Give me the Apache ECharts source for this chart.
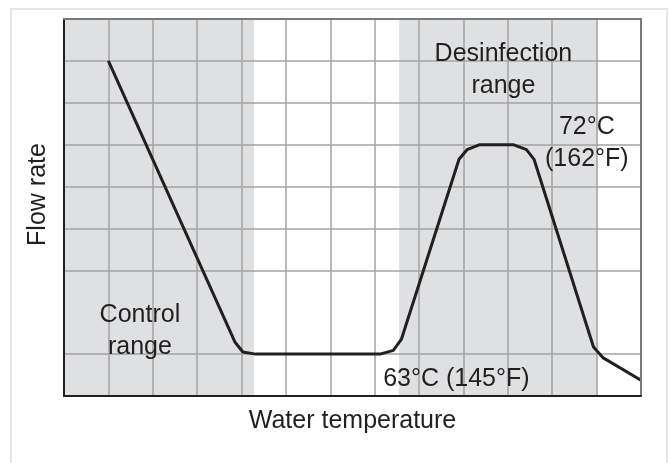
<!DOCTYPE html>
<html lang="en">
<head>
    <meta charset="UTF-8">
    <title>Flow rate vs water temperature</title>
    <script src="https://cdn.jsdelivr.net/npm/echarts@6/dist/echarts.min.js"></script>
    <style>
        html, body { margin: 0; padding: 0; background: #fff; }
    </style>
</head>
<body>
    <div id="graph" style="width: 669px; height: 463px;"></div>

    <script>
        // axis extents (grid units)
        var xMax = 13;
        var yMax = 9;

        // flow curve
        var curveX = [1, 3.85, 4.03, 4.32, 7.12, 7.42, 7.6, 8.9, 9.08, 9.37, 10.12, 10.42, 10.59, 11.93, 12.15, 13];
        var curveY = [8, 1.29, 1.05, 1.0, 1.0, 1.09, 1.35, 5.65, 5.88, 6.0, 6.0, 5.88, 5.65, 1.17, 0.91, 0.375];

        // shaded ranges (control, desinfection)
        var shadeFrom = [0, 7.55];
        var shadeTo = [4.28, 12.02];

        // grid lines (one horizontal line is missing in the original)
        var vGrid = [1, 2, 3, 4, 5, 6, 7, 8, 9, 10, 11, 12];
        var hGrid = [1, 3, 4, 5, 6, 7, 8];

        // annotations
        var noteText = ['Control\nrange', 'Desinfection\nrange', '72°C\n(162°F)', '63°C (145°F)'];
        var noteX = [1.71, 9.9, 11.78, 8.84];
        var noteY = [1.55, 7.79, 6.03, 0.40];

        var ink = '#231f20';
        var font = 'Liberation Sans, Arial, Helvetica, sans-serif';

        var curve = [];
        for (var i = 0; i < curveX.length; i++) {
            curve.push([curveX[i], curveY[i]]);
        }
        var areas = [];
        for (var i = 0; i < shadeFrom.length; i++) {
            areas.push([{xAxis: shadeFrom[i]}, {xAxis: shadeTo[i]}]);
        }
        var gridLines = [];
        for (var i = 0; i < vGrid.length; i++) {
            gridLines.push({xAxis: vGrid[i]});
        }
        for (var i = 0; i < hGrid.length; i++) {
            gridLines.push({yAxis: hGrid[i]});
        }
        var notes = [];
        for (var i = 0; i < noteText.length; i++) {
            notes.push({value: [noteX[i], noteY[i]], name: noteText[i]});
        }

        var myChart = echarts.init(document.getElementById('graph'));
        var option = {
            animation: false,
            textStyle: {fontFamily: font},
            graphic: [{
                type: 'rect',
                shape: {x: 11, y: 9, width: 656, height: 480},
                style: {fill: 'none', stroke: '#e6e6e6', lineWidth: 2},
                silent: true,
                z: -10
            }],
            grid: {left: 64, top: 19, width: 577, height: 377},
            xAxis: [{
                type: 'value',
                min: 0,
                max: xMax,
                interval: 1,
                name: 'Water temperature',
                nameLocation: 'middle',
                nameGap: 13,
                nameTextStyle: {color: ink, fontSize: 25, fontFamily: font, lineHeight: 25},
                axisLine: {show: true, onZero: false, lineStyle: {color: ink, width: 2}},
                axisTick: {show: false},
                axisLabel: {show: false},
                splitLine: {show: false},
                z: 6
            }, {
                type: 'value',
                position: 'top',
                min: 0,
                max: xMax,
                axisLine: {show: true, onZero: false, lineStyle: {color: '#7a7a7a', width: 2}},
                axisTick: {show: false},
                axisLabel: {show: false},
                splitLine: {show: false},
                z: 6
            }],
            yAxis: [{
                type: 'value',
                min: 0,
                max: yMax,
                interval: 1,
                name: 'Flow rate',
                nameLocation: 'middle',
                nameRotate: 90,
                nameGap: 13,
                nameTextStyle: {color: ink, fontSize: 25, fontFamily: font, lineHeight: 25, padding: [0, 0, 0, 26]},
                axisLine: {show: true, onZero: false, lineStyle: {color: ink, width: 2}},
                axisTick: {show: false},
                axisLabel: {show: false},
                splitLine: {show: false},
                z: 6
            }, {
                type: 'value',
                position: 'right',
                min: 0,
                max: yMax,
                axisLine: {show: true, onZero: false, lineStyle: {color: '#7a7a7a', width: 2}},
                axisTick: {show: false},
                axisLabel: {show: false},
                splitLine: {show: false},
                z: 6
            }],
            series: [{
                name: 'shade',
                type: 'line',
                data: [],
                silent: true,
                markArea: {
                    silent: true,
                    z: 1,
                    itemStyle: {color: '#dfe0e2'},
                    data: areas
                }
            }, {
                name: 'grid',
                type: 'line',
                data: [],
                silent: true,
                markLine: {
                    silent: true,
                    z: 2,
                    symbol: 'none',
                    label: {show: false},
                    lineStyle: {color: '#a3a3a3', width: 1.5, type: 'solid'},
                    emphasis: {disabled: true},
                    data: gridLines
                }
            }, {
                name: 'flow',
                type: 'line',
                data: curve,
                z: 4,
                showSymbol: false,
                lineStyle: {color: ink, width: 3, join: 'round'}
            }, {
                name: 'notes',
                type: 'scatter',
                data: notes,
                z: 5,
                silent: true,
                symbolSize: 0,
                itemStyle: {color: ink, opacity: 1},
                label: {
                    show: true,
                    position: 'inside',
                    formatter: function (p) { return p.name; },
                    color: ink,
                    opacity: 1,
                    textBorderWidth: 0,
                    fontSize: 25,
                    fontFamily: font,
                    lineHeight: 32,
                    align: 'center',
                    verticalAlign: 'middle'
                }
            }]
        };
        myChart.setOption(option);
    </script>
</body>
</html>
